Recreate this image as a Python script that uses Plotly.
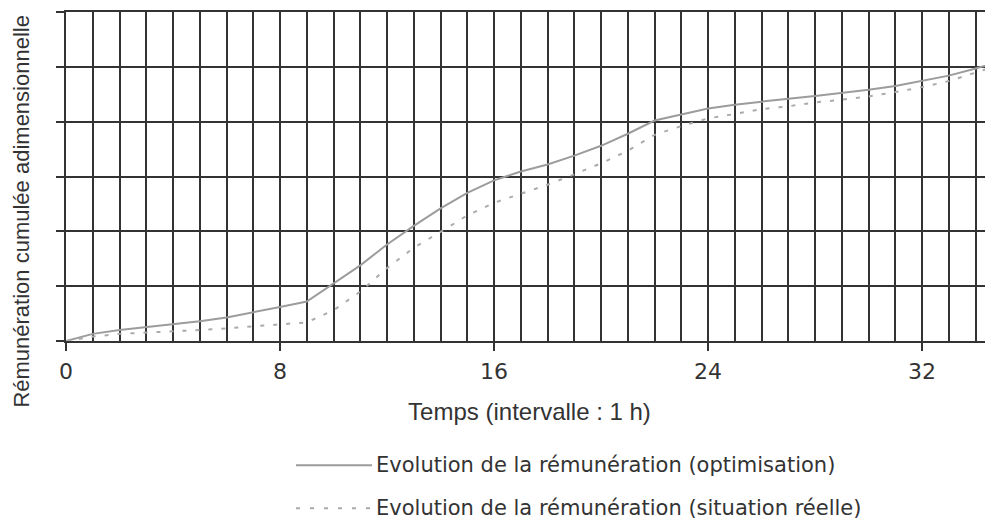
import plotly.graph_objects as go

hours = list(range(0, 36))
optimisation = [0.00, 0.13, 0.20, 0.25, 0.30, 0.36, 0.43, 0.52, 0.62, 0.72,
                1.05, 1.38, 1.76, 2.10, 2.42, 2.70, 2.93, 3.09, 3.22, 3.38,
                3.56, 3.78, 4.02, 4.13, 4.24, 4.31, 4.37, 4.42, 4.47, 4.52,
                4.58, 4.65, 4.74, 4.84, 4.97, 5.11]
reelle = [0.00, 0.08, 0.13, 0.15, 0.18, 0.20, 0.23, 0.27, 0.31, 0.34,
          0.56, 0.90, 1.33, 1.70, 1.99, 2.29, 2.52, 2.69, 2.85, 3.04,
          3.24, 3.47, 3.76, 3.92, 4.06, 4.14, 4.23, 4.28, 4.35, 4.40,
          4.46, 4.54, 4.63, 4.74, 4.89, 5.05]
x_ticks = [0, 8, 16, 24, 32]

name_opt = "Evolution de la rémunération (optimisation)"
name_reel = "Evolution de la rémunération (situation réelle)"
x_title = "Temps (intervalle : 1 h)"
y_title = "Rémunération cumulée adimensionnelle"

GRID = "#333333"
TXT = "#333333"
COL_OPT = "#9c9c9c"
COL_REEL = "#ababab"
DASH_REEL = "4px,9px"

fig = go.Figure()
fig.add_trace(go.Scatter(x=hours, y=optimisation, mode="lines", name=name_opt,
                         line=dict(color=COL_OPT, width=2)))
fig.add_trace(go.Scatter(x=hours, y=reelle, mode="lines", name=name_reel,
                         line=dict(color=COL_REEL, width=2, dash=DASH_REEL)))

# Hand-built legend (long line samples as in the original)
legend_rows = [(name_opt, COL_OPT, "solid", -0.3778),
               (name_reel, COL_REEL, "4px,10px", -0.5083)]
shapes = []
annotations = []
for label, col, dash, yy in legend_rows:
    shapes.append(dict(type="line", xref="paper", yref="paper",
                       x0=0.2481, x1=0.3301, y0=yy, y1=yy,
                       line=dict(color=col, width=2, dash=dash)))
    annotations.append(dict(text=label, xref="paper", yref="paper",
                            x=0.3323, y=yy, xanchor="left", yanchor="middle",
                            showarrow=False,
                            font=dict(family="DejaVu Sans", size=21, color=TXT)))

annotations.append(dict(text=y_title, textangle=-90, xref="paper", yref="paper",
                        x=-0.0490, y=0.395, xanchor="center", yanchor="middle",
                        showarrow=False,
                        font=dict(family="Liberation Sans", size=22, color=TXT)))

fig.update_layout(
    width=985, height=516,
    margin=dict(l=58, r=0, t=4, b=182.5, autoexpand=False),
    paper_bgcolor="white", plot_bgcolor="white",
    showlegend=False,
    shapes=shapes,
    annotations=annotations,
)

fig.update_xaxes(
    range=[0, 34.65], tickmode="array", tickvals=x_ticks,
    ticktext=[str(v) for v in x_ticks],
    ticks="outside", ticklen=8, tickwidth=2, tickcolor=GRID,
    ticklabelstandoff=2,
    showgrid=True, gridcolor=GRID, gridwidth=2,
    minor=dict(dtick=1, tick0=0, showgrid=True, gridcolor=GRID, gridwidth=2, ticks=""),
    showline=True, linecolor=GRID, linewidth=2, mirror=True,
    zeroline=False, automargin=False,
    tickfont=dict(family="DejaVu Sans", size=22, color=TXT),
    title=dict(text=x_title, standoff=20,
               font=dict(family="Liberation Sans", size=24, color=TXT)),
)
fig.update_yaxes(
    range=[0, 6], dtick=1, tick0=0,
    ticks="outside", ticklen=8, tickwidth=2, tickcolor=GRID,
    showticklabels=False,
    showgrid=True, gridcolor=GRID, gridwidth=2,
    showline=True, linecolor=GRID, linewidth=2,
    zeroline=False, automargin=False,
)

fig.write_html("out.html")
